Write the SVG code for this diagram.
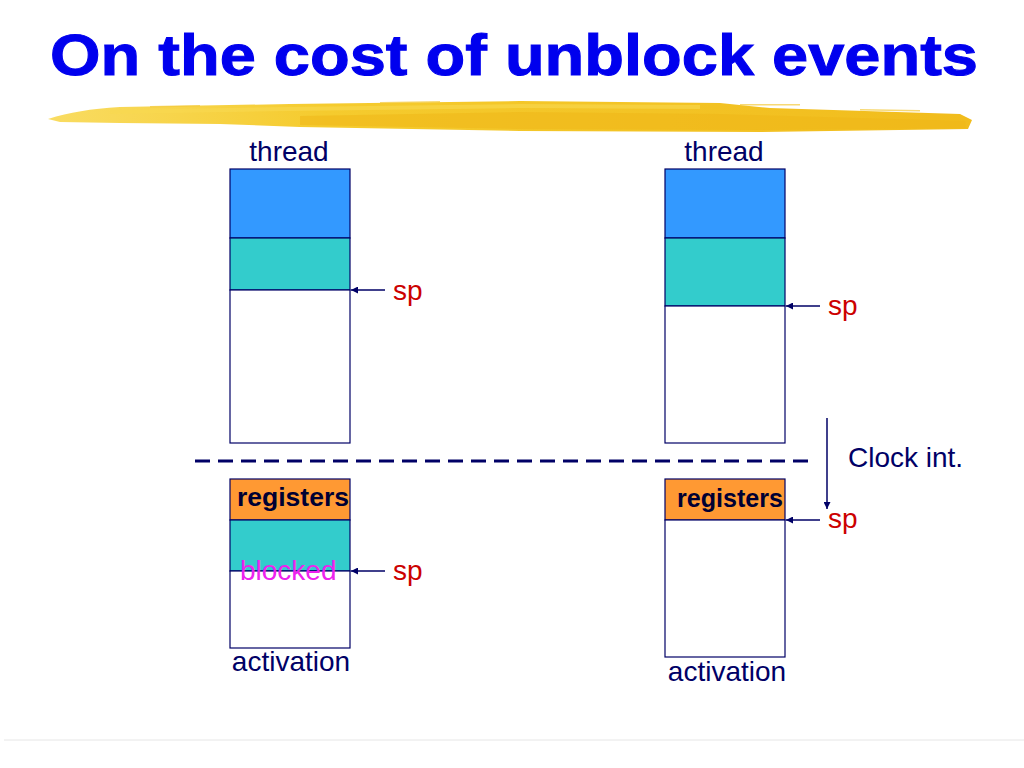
<svg xmlns="http://www.w3.org/2000/svg" width="1024" height="768" viewBox="0 0 1024 768">
<defs>
<style>
.lbl{font-family:"Liberation Sans",Arial,sans-serif;font-size:28px;fill:#000066}
.sp{font-family:"Liberation Sans",Arial,sans-serif;font-size:28px;fill:#CC0000}
.reg{font-family:"Liberation Sans",Arial,sans-serif;font-size:25px;font-weight:bold;fill:#000033}
.box{stroke:#000066;stroke-width:1.2}
.arr{stroke:#000066;stroke-width:1.5;fill:none;marker-end:url(#ah)}
</style>
<marker id="ah" viewBox="0 0 10 10" refX="10" refY="5" markerWidth="7" markerHeight="7" markerUnits="userSpaceOnUse" orient="auto">
<path d="M0,0 L10,5 L0,10 Z" fill="#000066"/>
</marker>
<linearGradient id="gold" x1="0" y1="0" x2="1" y2="0">
<stop offset="0" stop-color="#F9DC62"/>
<stop offset="0.3" stop-color="#F5CB2E"/>
<stop offset="1" stop-color="#F1BC1C"/>
</linearGradient>
</defs>
<rect width="1024" height="768" fill="#ffffff"/>
<text x="50" y="75" font-family="'Liberation Sans',Arial,sans-serif" font-weight="bold" font-size="58" fill="#0000EE" stroke="#0000EE" stroke-width="1" textLength="928" lengthAdjust="spacingAndGlyphs">On the cost of unblock events</text>
<g id="brush">
<path d="M48,119 C70,112 90,109 120,107 L290,104 L520,101 L720,103 L770,108 L960,114 L972,120 L968,129 L760,132 L520,131 L300,127 L220,124 L120,123 L60,122 Z" fill="url(#gold)"/>
<path d="M300,116 L520,112 L720,114 L965,121 L966,128 L760,130 L520,129 L300,125 Z" fill="#EFB717" opacity="0.55"/>
<path d="M110,110 L290,107 L520,104 L700,105 L700,109 L520,108 L290,111 L110,114 Z" fill="#F8D850" opacity="0.6"/>
<path d="M150,106 L200,105 L200,106.5 L150,107.5 Z M380,102 L440,101 L440,102.5 L380,103.5 Z M740,104 L800,104 L800,105.5 L740,105.5 Z M860,109 L920,110 L920,111.5 L860,110.5 Z" fill="#F3C93A" opacity="0.7"/>
</g>
<g id="thread-left">
<text class="lbl" x="289" y="161" text-anchor="middle">thread</text>
<rect class="box" x="230" y="169" width="120" height="69" fill="#3399FF"/>
<rect class="box" x="230" y="238" width="120" height="52" fill="#33CCCC"/>
<rect class="box" x="230" y="290" width="120" height="153" fill="#FFFFFF"/>
<text class="sp" x="393" y="300">sp</text>
</g>
<g id="thread-right">
<text class="lbl" x="724" y="161" text-anchor="middle">thread</text>
<rect class="box" x="665" y="169" width="120" height="69" fill="#3399FF"/>
<rect class="box" x="665" y="238" width="120" height="68" fill="#33CCCC"/>
<rect class="box" x="665" y="306" width="120" height="137" fill="#FFFFFF"/>
<text class="sp" x="828" y="315">sp</text>
</g>
<g id="activation-left">
<rect class="box" x="230" y="479" width="120" height="41" fill="#FF9933"/>
<rect class="box" x="230" y="520" width="120" height="51" fill="#33CCCC"/>
<rect class="box" x="230" y="571" width="120" height="77" fill="#FFFFFF"/>
<text class="reg" x="237" y="506" textLength="112" lengthAdjust="spacingAndGlyphs">registers</text>
<text x="240" y="580" font-family="'Liberation Sans',Arial,sans-serif" font-size="28" fill="#EE22EE">blocked</text>
<text class="sp" x="393" y="580">sp</text>
<text class="lbl" x="291" y="671" text-anchor="middle">activation</text>
</g>
<g id="activation-right">
<rect class="box" x="665" y="479" width="120" height="41" fill="#FF9933"/>
<rect class="box" x="665" y="520" width="120" height="137" fill="#FFFFFF"/>
<text class="reg" x="677" y="507" textLength="106" lengthAdjust="spacingAndGlyphs">registers</text>
<text class="sp" x="828" y="528">sp</text>
<text class="lbl" x="727" y="681" text-anchor="middle">activation</text>
</g>
<g id="clock-label">
<text class="lbl" x="848" y="467">Clock int.</text>
</g>
<g id="connectors">
<line x1="195" y1="461" x2="812" y2="461" stroke="#000066" stroke-width="3" stroke-dasharray="15 8"/>
<line class="arr" x1="385" y1="290" x2="351" y2="290"/>
<line class="arr" x1="820" y1="306" x2="786" y2="306"/>
<line class="arr" x1="385" y1="571" x2="351" y2="571"/>
<line class="arr" x1="820" y1="520" x2="786" y2="520"/>
<line class="arr" x1="827" y1="418" x2="827" y2="509"/>
</g>
<line x1="4" y1="740" x2="1024" y2="740" stroke="#E6E6E6" stroke-width="1"/>
</svg>
